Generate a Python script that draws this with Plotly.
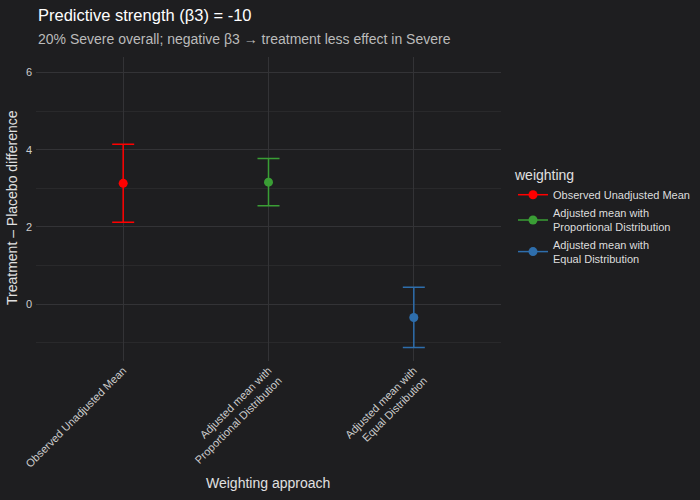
import plotly.graph_objects as go

categories = ["Observed Unadjusted Mean",
              "Adjusted mean with<br>Proportional Distribution",
              "Adjusted mean with<br>Equal Distribution"]
legend_names = ["Observed Unadjusted Mean",
                "Adjusted mean with<br>Proportional Distribution",
                "Adjusted mean with<br>Equal Distribution"]
estimates = [3.13, 3.16, -0.345]
upper = [4.14, 3.77, 0.44]
lower = [2.12, 2.55, -1.12]
colors = ["#FF0000", "#3A9E35", "#2E6EAC"]

bg = "#1E1E20"
W, H = 700, 500
L, R, T, B = 36, 199, 57, 139
PW, PH = W - L - R, H - T - B


def px_x(p):
    return (p - L) / PW


def px_y(p):
    return (H - B - p) / PH


fig = go.Figure()
for cat, name, est, up, lo, col in zip(categories, legend_names, estimates, upper, lower, colors):
    fig.add_trace(go.Scatter(
        x=[cat], y=[est], name=name, mode="lines+markers",
        marker=dict(color=col, size=9),
        line=dict(color=col, width=1.5),
        error_y=dict(type="data", symmetric=False, array=[up - est], arrayminus=[est - lo],
                     color=col, thickness=1.5, width=11),
    ))

annos = [
    dict(text="Predictive strength (β3) = -10", x=px_x(36), y=px_y(15), xanchor="left", yanchor="middle",
         font=dict(size=16.5, color="#FFFFFF")),
    dict(text="20% Severe overall; negative β3 → treatment less effect in Severe", x=px_x(36), y=px_y(39),
         xanchor="left", yanchor="middle", font=dict(size=14, color="#BBBBBB")),
    dict(text="Weighting approach", x=px_x(268), y=px_y(483), xanchor="center", yanchor="middle",
         font=dict(size=14, color="#E0E0E0")),
    dict(text="Treatment – Placebo difference", x=px_x(12), y=px_y(208), xanchor="center", yanchor="middle",
         textangle=-90, font=dict(size=14, color="#E0E0E0")),
]
for a in annos:
    a.update(xref="paper", yref="paper", showarrow=False)

fig.update_layout(
    width=W, height=H,
    paper_bgcolor=bg, plot_bgcolor=bg,
    margin=dict(l=L, r=R, t=T, b=B),
    font=dict(family="Liberation Sans, Arial, sans-serif", color="#DDDDDD"),
    annotations=annos,
    xaxis=dict(
        type="category", categoryorder="array", categoryarray=categories,
        range=[-0.6, 2.6], tickangle=-45, automargin=False,
        tickfont=dict(size=11, color="#CCCCCC"),
        showgrid=True, gridcolor="#333336", gridwidth=1, zeroline=False,
        showline=False, ticks="",
    ),
    yaxis=dict(
        range=[-1.47, 6.4], dtick=2, tick0=0, automargin=False,
        tickfont=dict(size=11, color="#CCCCCC"), ticklabelstandoff=3,
        showgrid=True, gridcolor="#333336", gridwidth=1, zeroline=False,
        minor=dict(dtick=1, tick0=0, showgrid=True, gridcolor="#29292B", gridwidth=1),
        ticks="",
    ),
    legend=dict(
        title=dict(text="weighting", font=dict(size=14, color="#E0E0E0")),
        xref="container", yref="container",
        x=513 / W, xanchor="left", y=1 - 162 / H, yanchor="top",
        font=dict(size=11, color="#DDDDDD"), bgcolor="rgba(0,0,0,0)",
    ),
)

post = ("document.documentElement.style.overflow='hidden';"
        "document.body.style.overflow='hidden';"
        "document.body.style.margin='0';"
        "document.body.style.background='#1E1E20';")
fig.write_html("out.html", config={"displayModeBar": False, "responsive": False}, post_script=post)
